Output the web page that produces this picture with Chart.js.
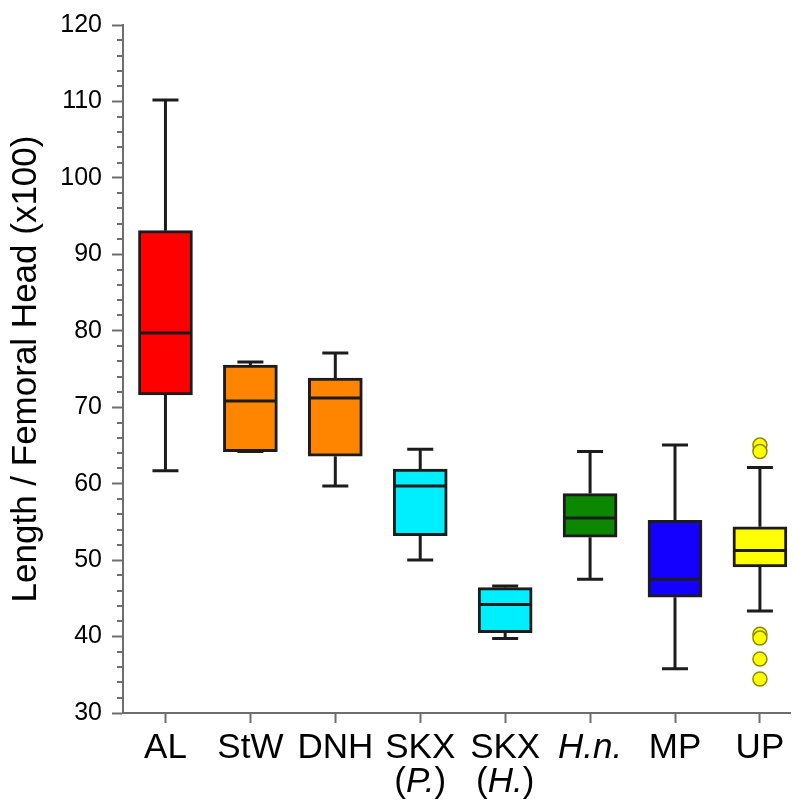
<!DOCTYPE html>
<html>
<head>
<meta charset="utf-8">
<script src="https://cdn.jsdelivr.net/npm/chart.js@4"></script>
<style>
  html, body { margin: 0; padding: 0; background: #fff; }
  #chart { display: block; }
</style>
</head>
<body>
<canvas id="chart" width="799" height="800"></canvas>
<script>
// --- data ---
// labels: lines of each category, *...* marks italic text
const categoryLines = [
    ["AL"], ["StW"], ["DNH"], ["SKX", "(*P.*)"], ["SKX", "(*H.*)"], ["*H.n.*"], ["MP"], ["UP"]
];
const whiskerLow = [61.7, 64.2, 59.7, 50.0, 39.75, 47.5, 35.8, 43.35];
const q1 = [71.6, 64.2, 63.6, 53.2, 40.5, 53.0, 45.15, 49.1];
const median = [79.7, 70.8, 71.2, 59.7, 44.2, 55.5, 47.5, 51.25];
const q3 = [93.1, 75.5, 73.8, 61.9, 46.4, 58.7, 55.2, 54.35];
const whiskerHigh = [110.2, 75.9, 77.1, 64.5, 46.6, 64.2, 65.05, 62.1];
const boxColors = ["#ff0000", "#ff8500", "#ff8500", "#00efff", "#00efff", "#0b8700", "#1400ff", "#ffff00"];
const outlierGroup = [7, 7, 7, 7, 7, 7];
const outlierValues = [65.05, 64.2, 40.3, 39.8, 37.05, 34.45];

const yTickValues = [30, 40, 50, 60, 70, 80, 90, 100, 110, 120];
const yMinorValues = [32, 34, 36, 38, 42, 44, 46, 48, 52, 54, 56, 58, 62, 64, 66, 68, 72, 74, 76, 78,
                      82, 84, 86, 88, 92, 94, 96, 98, 102, 104, 106, 108, 112, 114, 116, 118];

const axisColor = "#6e6e6e";
const lineColor = "#1c1c1c";
const fontFamily = "'Liberation Sans', Arial, sans-serif";

// --- whiskers, medians, minor ticks and category labels ---
const boxPlotPlugin = {
    id: "boxPlotExtras",
    beforeDatasetsDraw(chart) {
        const { ctx, scales: { x, y } } = chart;
        ctx.save();
        ctx.strokeStyle = lineColor;
        ctx.lineWidth = 3;
        whiskerLow.forEach((lo, i) => {
            const px = x.getPixelForValue(i);
            const capHalf = 13;
            ctx.beginPath();
            ctx.moveTo(px, y.getPixelForValue(whiskerHigh[i]));
            ctx.lineTo(px, y.getPixelForValue(q3[i]));
            ctx.moveTo(px, y.getPixelForValue(q1[i]));
            ctx.lineTo(px, y.getPixelForValue(lo));
            ctx.moveTo(px - capHalf, y.getPixelForValue(whiskerHigh[i]));
            ctx.lineTo(px + capHalf, y.getPixelForValue(whiskerHigh[i]));
            ctx.moveTo(px - capHalf, y.getPixelForValue(lo));
            ctx.lineTo(px + capHalf, y.getPixelForValue(lo));
            ctx.stroke();
        });
        ctx.restore();
    },
    afterDatasetsDraw(chart) {
        const { ctx, scales: { x, y } } = chart;
        ctx.save();
        ctx.strokeStyle = lineColor;
        ctx.lineWidth = 3;
        median.forEach((m, i) => {
            const px = x.getPixelForValue(i);
            const py = y.getPixelForValue(m);
            ctx.beginPath();
            ctx.moveTo(px - 26, py);
            ctx.lineTo(px + 26, py);
            ctx.stroke();
        });

        // minor y ticks
        ctx.strokeStyle = axisColor;
        ctx.lineWidth = 2;
        yMinorValues.forEach(v => {
            const py = Math.round(y.getPixelForValue(v));
            ctx.beginPath();
            ctx.moveTo(x.left - 6, py);
            ctx.lineTo(x.left, py);
            ctx.stroke();
        });

        // category labels, mixed upright / italic
        ctx.fillStyle = "#000";
        ctx.textBaseline = "alphabetic";
        ctx.textAlign = "left";
        categoryLines.forEach((lines, i) => {
            const px = x.getPixelForValue(i);
            lines.forEach((line, li) => {
                const parts = line.split("*").map((t, k) => ({ text: t, italic: k % 2 === 1 }))
                    .filter(p => p.text.length);
                let total = 0;
                parts.forEach(p => {
                    ctx.font = (p.italic ? "italic " : "") + "35px " + fontFamily;
                    p.w = ctx.measureText(p.text).width;
                    total += p.w;
                });
                let cx = px - total / 2;
                const by = y.bottom + 45 + li * 34;
                parts.forEach(p => {
                    ctx.font = (p.italic ? "italic " : "") + "35px " + fontFamily;
                    ctx.fillText(p.text, cx, by);
                    cx += p.w;
                });
            });
        });
        ctx.restore();
    }
};

new Chart(document.getElementById("chart"), {
    type: "bar",
    data: {
        datasets: [
            {
                type: "scatter",
                data: outlierValues.map((v, i) => ({ x: outlierGroup[i], y: v })),
                pointRadius: 7,
                pointBackgroundColor: "#ffff00",
                pointBorderColor: "#8f8a00",
                pointBorderWidth: 1.5
            },
            {
                data: q1.map((v, i) => ({ x: i, y: [v, q3[i]] })),
                backgroundColor: boxColors,
                borderColor: lineColor,
                borderWidth: 3,
                borderSkipped: false,
                barThickness: 54
            }
        ]
    },
    options: {
        responsive: false,
        animation: false,
        layout: { padding: { top: 24, left: 0, right: 0, bottom: 0 } },
        plugins: {
            legend: { display: false },
            tooltip: { enabled: false }
        },
        scales: {
            x: {
                type: "linear",
                min: -0.5,
                max: 7.36,
                offset: false,
                afterBuildTicks: scale => {
                    scale.ticks = categoryLines.map((c, i) => ({ value: i }));
                },
                afterFit: scale => { scale.height = 87; },
                grid: {
                    offset: false,
                    drawOnChartArea: false,
                    drawTicks: true,
                    tickLength: 10,
                    tickColor: axisColor,
                    tickWidth: 2
                },
                border: { display: true, color: axisColor, width: 2 },
                ticks: { display: false }
            },
            y: {
                type: "linear",
                min: 30,
                max: 120,
                afterBuildTicks: scale => {
                    scale.ticks = yTickValues.map(v => ({ value: v }));
                },
                afterFit: scale => { scale.width = 123; },
                grid: {
                    drawOnChartArea: false,
                    drawTicks: true,
                    tickLength: 11,
                    tickColor: axisColor,
                    tickWidth: 2
                },
                border: { display: true, color: axisColor, width: 2 },
                ticks: {
                    color: "#000",
                    padding: 10,
                    font: { family: fontFamily, size: 25 }
                },
                title: {
                    display: true,
                    text: "Length / Femoral Head (x100)",
                    color: "#000",
                    font: { family: fontFamily, size: 35 },
                    padding: { top: 5, bottom: 0 }
                }
            }
        }
    },
    plugins: [boxPlotPlugin]
});
</script>
</body>
</html>
